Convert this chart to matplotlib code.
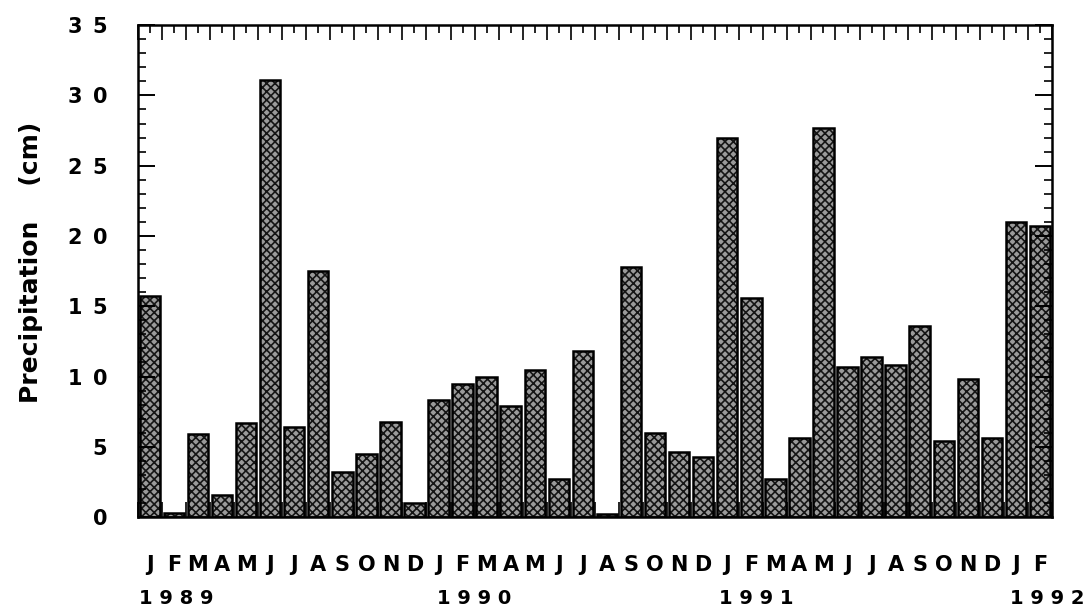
import matplotlib
matplotlib.use("Agg")
import matplotlib.pyplot as plt
from matplotlib.ticker import MultipleLocator, FixedLocator, NullFormatter
import numpy as np

plt.rcParams['font.family'] = ['DejaVu Sans']
plt.rcParams['font.weight'] = 'bold'
plt.rcParams['hatch.linewidth'] = 1.2

months = ["J", "F", "M", "A", "M", "J", "J", "A", "S", "O", "N", "D",
          "J", "F", "M", "A", "M", "J", "J", "A", "S", "O", "N", "D",
          "J", "F", "M", "A", "M", "J", "J", "A", "S", "O", "N", "D",
          "J", "F"]
precip_cm = [15.7, 0.3, 5.9, 1.6, 6.7, 31.1, 6.4, 17.5, 3.2, 4.5, 6.8, 1.0,
             8.3, 9.5, 10.0, 7.9, 10.5, 2.7, 11.8, 0.2, 17.8, 6.0, 4.6, 4.3,
             27.0, 15.6, 2.7, 5.6, 27.7, 10.7, 11.4, 10.8, 13.6, 5.4, 9.8, 5.6,
             21.0, 20.7]
years = ["1 9 8 9", "1 9 9 0", "1 9 9 1", "1 9 9 2"]
year_pos = [1.1, 13.5, 25.2, 37.3]
yticks = [0, 5, 10, 15, 20, 25, 30, 35]
ytick_labels = ["0", "5", "1\u20020", "1\u20025", "2\u20020", "2\u20025",
                "3\u20020", "3\u20025"]

fig = plt.figure(figsize=(10.85, 6.12), dpi=100)
ax = fig.add_axes([0.127, 0.155, 0.8426, 0.804])

x = np.arange(len(precip_cm))
# hatched fill
ax.bar(x, precip_cm, width=0.85, color='#9a9a9a', edgecolor='#151515',
       hatch='xxxx', linewidth=0, zorder=1)
# black outline
ax.bar(x, precip_cm, width=0.85, fill=False, edgecolor='black',
       linewidth=1.8, zorder=2)

ax.set_xlim(-0.5, len(precip_cm) - 0.5)
ax.set_ylim(0, 35)

for s in ax.spines.values():
    s.set_linewidth(1.8)

# y ticks
ax.yaxis.set_major_locator(FixedLocator(yticks))
ax.set_yticklabels(ytick_labels, fontsize=15, fontweight='bold')
ax.yaxis.set_minor_locator(MultipleLocator(1))
ax.tick_params(axis='y', which='major', direction='in', length=12, width=1.4,
               left=True, right=True, pad=22)
ax.tick_params(axis='y', which='minor', direction='in', length=5.5, width=1.2,
               left=True, right=True)

# x ticks: major at bar boundaries, minor at bar centres with month letters
ax.xaxis.set_major_locator(FixedLocator(np.arange(-0.5, len(precip_cm), 1.0)))
ax.xaxis.set_major_formatter(NullFormatter())
ax.xaxis.set_minor_locator(FixedLocator(x))
ax.set_xticklabels(months, minor=True, fontsize=15, fontweight='bold')
ax.tick_params(axis='x', which='major', direction='in', length=11, width=1.2,
               top=True, bottom=True)
ax.tick_params(axis='x', which='minor', direction='in', length=5.5, width=1.2,
               top=True, bottom=False, pad=27.5)

# year labels
trans = matplotlib.transforms.blended_transform_factory(ax.transData, fig.transFigure)
for yr, xp in zip(years, year_pos):
    ax.text(xp, 0.013, yr, transform=trans, ha='center', va='baseline',
            fontsize=14, fontweight='bold')

ax.set_ylabel("Precipitation    (cm)", fontsize=18, fontweight='bold')
ax.yaxis.set_label_coords(-0.104, 0.518)

fig.savefig("out.png", dpi=100)
